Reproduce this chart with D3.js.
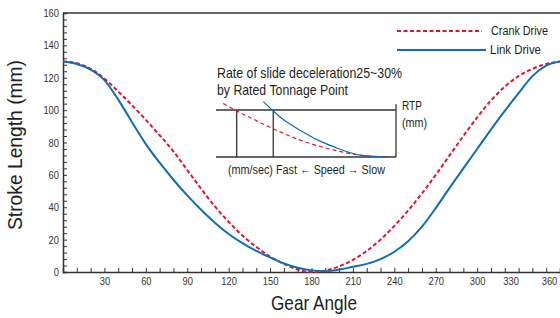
<!DOCTYPE html>
<html>
<head>
<meta charset="utf-8">
<script src="https://cdn.jsdelivr.net/npm/d3@7"></script>
<style>
  body { margin: 0; background: #fff; }
  svg text { font-family: "Liberation Sans", Arial, sans-serif; fill: #231f20; }
</style>
</head>
<body>
<div id="chart"></div>
<script>
// gear angle every 10 degrees
var angles = [0,10,20,30,40,50,60,70,80,90,100,110,120,130,140,150,160,170,180,
  190,200,210,220,230,240,250,260,270,280,290,300,310,320,330,340,350,360];
var crankDrive = [130,129,125.5,119.5,111.5,103,94,84.5,74.5,63,51.5,40.5,31,22.5,15.5,9.5,5,1.5,0,
  1,3.5,7.5,13,20,28.5,38,48.5,60,72,84,95.5,106,114.5,121,125.5,128.5,130];
var linkDrive = [130,128.5,125,118.5,106.5,92.5,79,67.5,57,47.3,38.5,30.5,23.5,17.8,13,9,5.3,2.6,1,
  0.5,1.5,3.2,5,8,12.5,19,28,39.5,52,64,76,88,99.5,110.5,121,127.5,130];
var xTickLabels = [30,60,90,120,150,180,210,240,270,300,330,360];
var yTickLabels = [0,20,40,60,80,100,120,140,160];

// inset: speed (x, 0-100) vs height relative to RTP (y, 1 = RTP)
var insetCrankX = [4,11.5,20,31.8,46.7,65.2,83.7,94.8];
var insetCrankY = [1.14,0.98,0.82,0.6,0.36,0.15,0.02,0];
var insetLinkX = [26.3,31.8,38,46.7,56,65.2,80,94.8];
var insetLinkY = [1.18,0.98,0.78,0.57,0.37,0.22,0.04,0];

var W = 560, H = 318;
var red = "#e8112d", blue = "#0d6db7", axisCol = "#333";

// squeeze text to look like the condensed face of the original
function narrow(sel, w) {
  sel.attr("textLength", w).attr("lengthAdjust", "spacingAndGlyphs");
  return sel;
}

var svg = d3.select("#chart").append("svg")
  .attr("width", W).attr("height", H);

var x = d3.scaleLinear().domain([0, 360]).range([63, 560]);
var y = d3.scaleLinear().domain([0, 160]).range([272, 13]);

// x axis, ticks every 10 deg pointing inward
var xAxis = d3.axisBottom(x)
  .tickValues(d3.range(0, 361, 10))
  .tickSize(-4)
  .tickPadding(5)
  .tickFormat(d => xTickLabels.indexOf(d) >= 0 ? d : "");
var gx = svg.append("g")
  .attr("transform", "translate(0," + y(0) + ")")
  .call(xAxis);

var yAxis = d3.axisLeft(y)
  .tickValues(d3.range(0, 161, 4))
  .tickSize(-4)
  .tickPadding(4)
  .tickFormat(d => yTickLabels.indexOf(d) >= 0 ? d : "");
var gy = svg.append("g")
  .attr("transform", "translate(" + x(0) + ",0)")
  .call(yAxis);

[gx, gy].forEach(function(g) {
  g.select(".domain").attr("stroke", axisCol).attr("stroke-width", 1.5);
  g.selectAll(".tick line").attr("stroke", axisCol);
  g.selectAll(".tick text").style("font-size", "11px").style("fill", "#333")
    .each(function() {
      var t = d3.select(this).text();
      if (t) narrow(d3.select(this), t.length * 5.2);
    });
});
gx.selectAll(".tick text").filter(d => d == 330).attr("dx", -8);
gx.selectAll(".tick text").filter(d => d == 360).attr("dx", -11);

// top frame line
svg.append("line")
  .attr("x1", x(0)).attr("x2", x(360))
  .attr("y1", y(160)).attr("y2", y(160))
  .attr("stroke", axisCol).attr("stroke-width", 1.5);

// curves
var line = d3.line()
  .x((d, i) => x(angles[i]))
  .y(d => y(d))
  .curve(d3.curveMonotoneX);

svg.append("path")
  .datum(crankDrive)
  .attr("d", line)
  .attr("fill", "none")
  .attr("stroke", red)
  .attr("stroke-width", 2)
  .attr("stroke-dasharray", "4,2.5");

svg.append("path")
  .datum(linkDrive)
  .attr("d", line)
  .attr("fill", "none")
  .attr("stroke", blue)
  .attr("stroke-width", 2);

// axis titles
narrow(svg.append("text")
  .attr("x", 314).attr("y", 310)
  .attr("text-anchor", "middle")
  .style("font-size", "21px")
  .text("Gear Angle"), 86);

narrow(svg.append("text")
  .attr("transform", "translate(22,145) rotate(-90)")
  .attr("text-anchor", "middle")
  .style("font-size", "21px")
  .text("Stroke Length (mm)"), 170);

// legend
var legend = svg.append("g");
legend.append("line")
  .attr("x1", 397).attr("x2", 482).attr("y1", 31).attr("y2", 31)
  .attr("stroke", red).attr("stroke-width", 2).attr("stroke-dasharray", "4,2.5");
narrow(legend.append("text").attr("x", 491).attr("y", 35).style("font-size", "12px").text("Crank Drive"), 57);
legend.append("line")
  .attr("x1", 397).attr("x2", 486).attr("y1", 50).attr("y2", 50)
  .attr("stroke", blue).attr("stroke-width", 2);
narrow(legend.append("text").attr("x", 490).attr("y", 54).style("font-size", "12px").text("Link Drive"), 51);

// inset
var ix = d3.scaleLinear().domain([0, 100]).range([216, 396]);
var iy = d3.scaleLinear().domain([0, 1]).range([157, 110]);
var inset = svg.append("g");

narrow(inset.append("text").attr("x", 217).attr("y", 78).style("font-size", "15px")
  .text("Rate of slide deceleration25~30%"), 185);
narrow(inset.append("text").attr("x", 217).attr("y", 95).style("font-size", "15px")
  .text("by Rated Tonnage Point"), 131);

inset.append("line").attr("x1", ix(0)).attr("x2", ix(100)).attr("y1", iy(1)).attr("y2", iy(1))
  .attr("stroke", axisCol).attr("stroke-width", 1.3);
inset.append("line").attr("x1", ix(0)).attr("x2", ix(100)).attr("y1", iy(0)).attr("y2", iy(0))
  .attr("stroke", axisCol).attr("stroke-width", 1.3);
inset.append("line").attr("x1", ix(100)).attr("x2", ix(100)).attr("y1", iy(1.12)).attr("y2", iy(0))
  .attr("stroke", axisCol).attr("stroke-width", 1.3);
// verticals where each curve meets RTP
[insetCrankX[1], insetLinkX[1]].forEach(function(v) {
  inset.append("line").attr("x1", ix(v)).attr("x2", ix(v)).attr("y1", iy(1)).attr("y2", iy(0))
    .attr("stroke", axisCol).attr("stroke-width", 1.3);
});

var iline = function(xs) {
  return d3.line().x((d, i) => ix(xs[i])).y(d => iy(d)).curve(d3.curveMonotoneX);
};
inset.append("path").datum(insetCrankY).attr("d", iline(insetCrankX))
  .attr("fill", "none").attr("stroke", red).attr("stroke-width", 1.2).attr("stroke-dasharray", "4,3");
inset.append("path").datum(insetLinkY).attr("d", iline(insetLinkX))
  .attr("fill", "none").attr("stroke", blue).attr("stroke-width", 1.2);

narrow(inset.append("text").attr("x", 402).attr("y", 110).style("font-size", "12px").text("RTP"), 20);
narrow(inset.append("text").attr("x", 402).attr("y", 127).style("font-size", "12px").text("(mm)"), 25);
narrow(inset.append("text").attr("x", 228).attr("y", 174)
  .style("font-size", "12.5px")
  .text("(mm/sec) Fast \u2190 Speed \u2192 Slow"), 157);
</script>
</body>
</html>
